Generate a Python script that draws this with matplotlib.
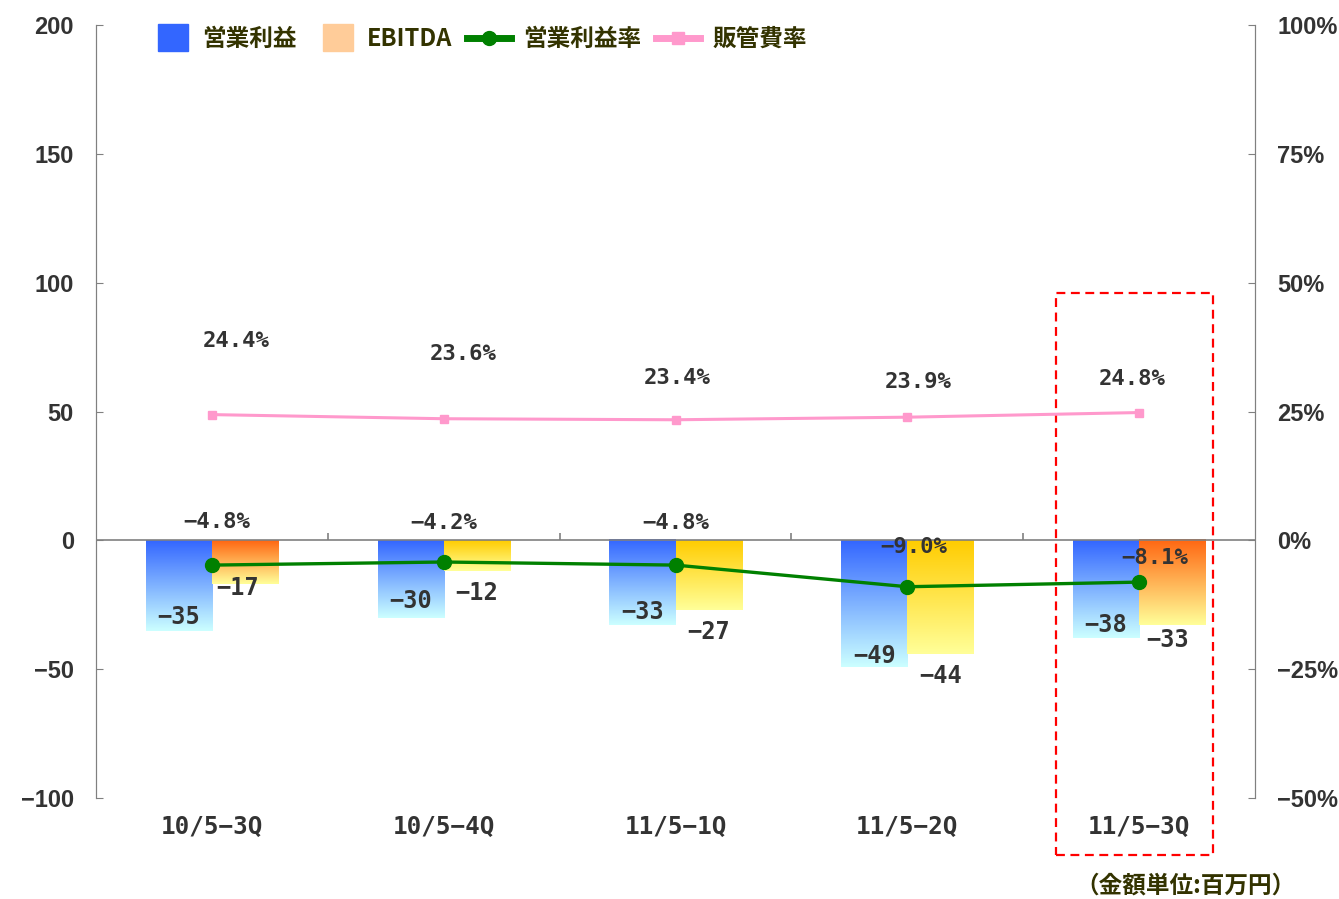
import numpy as np
import matplotlib.pyplot as plt
from matplotlib.patches import Patch, Rectangle
from matplotlib.lines import Line2D
from matplotlib.colors import LinearSegmentedColormap
from matplotlib.legend_handler import HandlerPatch

plt.rcParams['font.family'] = ['Noto Sans CJK JP', 'DejaVu Sans']

# ---------------- data ----------------
categories = ["10/5-3Q", "10/5-4Q", "11/5-1Q", "11/5-2Q", "11/5-3Q"]
op_income = [-35, -30, -33, -49, -38]          # 営業利益 (百万円)
ebitda = [-17, -12, -27, -44, -33]             # EBITDA (百万円)
op_margin = [-4.8, -4.2, -4.8, -9.0, -8.1]     # 営業利益率 (%)
sga_ratio = [24.4, 23.6, 23.4, 23.9, 24.8]     # 販管費率 (%)
left_ticks = [-100, -50, 0, 50, 100, 150, 200]
right_ticks = [-50, -25, 0, 25, 50, 75, 100]

# label offsets in pixels (placement only)
op_lbl_dy = [14, 17, 13, 11, 13]
eb_lbl_dy = [-4, -22, -22, -22, -15]
eb_lbl_dx = [-7, 0, 0, 0, -5]
margin_lbl_dx = [5, 0, 0, 6, 16]
margin_lbl_dy = [43, 39, 42, 40, 24]
sga_lbl_dx = [24, 19, 2, 11, -7]
sga_lbl_dy = [74, 65, 42, 35, 34]

# ---------------- figure ----------------
fig = plt.figure(figsize=(13.39, 8.99), dpi=100)
ax = fig.add_axes([0.0717, 0.1123, 0.9373 - 0.0717, 0.9722 - 0.1123])
ax2 = ax.twinx()

x = np.arange(len(categories))
w = 0.285
txt_col = "#333333"
spine_col = "#808080"
mono = ["DejaVu Sans Mono"]

def minus(s):
    return s.replace("-", "\u2212")

bars1 = ax.bar(x - w / 2, op_income, w, color="none", zorder=2)
bars2 = ax.bar(x + w / 2, ebitda, w, color="none", zorder=2)

grad = np.linspace(0, 1, 256).reshape(-1, 1)
cm_blue = LinearSegmentedColormap.from_list("b", ["#3366FF", "#CCFFFF"])
cm_orange = LinearSegmentedColormap.from_list("o", ["#FF6611", "#FFFF99"])
cm_gold = LinearSegmentedColormap.from_list("g", ["#FFCC00", "#FFFF99"])
ebitda_cmaps = [cm_orange, cm_gold, cm_gold, cm_gold, cm_orange]

def fill_gradient(bar, cmap):
    x0, y0 = bar.get_x(), bar.get_y()
    bw, bh = bar.get_width(), bar.get_height()
    ax.imshow(grad, cmap=cmap, aspect="auto", origin="upper",
              extent=[x0, x0 + bw, y0 + bh, y0], zorder=2)

for b in bars1:
    fill_gradient(b, cm_blue)
for b, cm in zip(bars2, ebitda_cmaps):
    fill_gradient(b, cm)

ax.set_xlim(-0.5, len(categories) - 0.5)
ax.set_ylim(-100, 200)

# zero line and category separator ticks
ax.axhline(0, color=spine_col, lw=1.2, zorder=3)
ax.vlines(x[:-1] + 0.5, 0, 3, color=spine_col, lw=1.2, zorder=3)

# bar value labels
for xi, v, dy in zip(x, op_income, op_lbl_dy):
    ax.annotate(minus(str(v)), (xi - w / 2, v), xytext=(0, dy), textcoords="offset pixels",
                ha="center", va="center", fontsize=17, fontweight="bold",
                family=mono, color=txt_col, zorder=6)
for xi, v, dx, dy in zip(x, ebitda, eb_lbl_dx, eb_lbl_dy):
    ax.annotate(minus(str(v)), (xi + w / 2, v), xytext=(dx, dy), textcoords="offset pixels",
                ha="center", va="center", fontsize=17, fontweight="bold",
                family=mono, color=txt_col, zorder=6)

# lines on right axis
ax2.set_ylim(-50, 100)
ax2.plot(x, sga_ratio, color="#FF99CC", lw=2.2, marker="s", ms=6, zorder=4)
ax2.plot(x, op_margin, color="#008000", lw=2.4, marker="o", ms=10, zorder=5)

for xi, v, dx, dy in zip(x, op_margin, margin_lbl_dx, margin_lbl_dy):
    ax2.annotate(minus(f"{v:.1f}%"), (xi, v), xytext=(dx, dy), textcoords="offset pixels",
                 ha="center", va="center", fontsize=16, fontweight="bold",
                 family=mono, color=txt_col, zorder=6)
for xi, v, dx, dy in zip(x, sga_ratio, sga_lbl_dx, sga_lbl_dy):
    ax2.annotate(f"{v:.1f}%", (xi, v), xytext=(dx, dy), textcoords="offset pixels",
                 ha="center", va="center", fontsize=16, fontweight="bold",
                 family=mono, color=txt_col, zorder=6)

# axes styling
for a in (ax, ax2):
    a.spines["top"].set_visible(False)
    a.spines["bottom"].set_visible(False)
    a.spines["left"].set_color(spine_col)
    a.spines["right"].set_color(spine_col)

tick_font = dict(family=["Liberation Sans"], fontweight="bold", fontsize=17, color=txt_col)
ax.set_yticks(left_ticks)
ax.set_yticklabels([minus(str(t)) for t in left_ticks], **tick_font)
ax2.set_yticks(right_ticks)
ax2.set_yticklabels([minus(f"{t}%") for t in right_ticks], **tick_font)
ax.tick_params(axis="y", direction="in", length=5, color=spine_col, pad=16)
ax2.tick_params(axis="y", direction="in", length=5, color=spine_col, pad=16)
ax.set_xticks(x)
ax.set_xticklabels([minus(c) for c in categories], family=mono, fontweight="bold",
                   fontsize=17.5, color=txt_col)
ax.tick_params(axis="x", length=0, pad=12)

# highlight box for latest quarter
ax.add_patch(Rectangle((3.64, -122), 0.68, 218, fill=False, ec="#FF0000",
                       lw=1.6, ls=(0, (4, 2.5)), clip_on=False, zorder=7))

# legend
def square_patch(legend, orig_handle, xdescent, ydescent, width, height, fontsize):
    sw = width * 0.67
    sh = height * 1.6
    return Rectangle((-xdescent + width * 0.29, -ydescent + (height - sh) / 2), sw, sh)

handles = [
    Patch(color="#3366FF", label="営業利益"),
    Patch(color="#FFCC99", label="EBITDA"),
    Line2D([], [], color="#008000", lw=5, marker="o", ms=10, label="営業利益率"),
    Line2D([], [], color="#FF99CC", lw=5, marker="s", ms=9, label="販管費率"),
]
leg = ax2.legend(handles=handles, loc="center left", bbox_to_anchor=(0.0423, 0.982),
                 ncol=4, frameon=False, handlelength=1.9, handletextpad=0.5,
                 columnspacing=0.6, borderpad=0, borderaxespad=0,
                 handler_map={Patch: HandlerPatch(patch_func=square_patch)},
                 prop={"size": 17, "weight": "bold"})
for t in leg.get_texts():
    t.set_color("#333300")

fig.text(0.885, 0.0145, "（金額単位:百万円）", ha="center", va="center",
         fontsize=17, fontweight="bold", color="#333300")

fig.savefig("out.png", dpi=100)
